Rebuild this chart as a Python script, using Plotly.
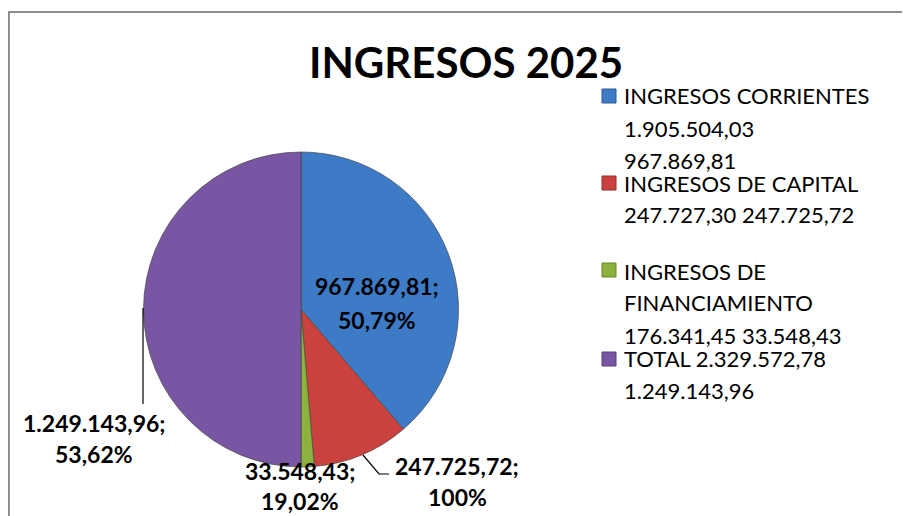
import plotly.graph_objects as go

# chart data
categorias = ["INGRESOS CORRIENTES", "INGRESOS DE CAPITAL",
              "INGRESOS DE FINANCIAMIENTO", "TOTAL"]
valores = [967869.81, 247725.72, 33548.43, 1249143.96]
etiquetas_valor = ["967.869,81;", "247.725,72;", "33.548,43;", "1.249.143,96;"]
etiquetas_pct = ["50,79%", "100%", "19,02%", "53,62%"]
leyenda_lineas = [
    ["INGRESOS CORRIENTES", "1.905.504,03", "967.869,81"],
    ["INGRESOS DE CAPITAL", "247.727,30 247.725,72"],
    ["INGRESOS DE", "FINANCIAMIENTO", "176.341,45 33.548,43"],
    ["TOTAL 2.329.572,78", "1.249.143,96"],
]
colores = ["#3D7BC7", "#CB413E", "#8CB23D", "#7856A3"]
bordes = ["#2C5A94", "#962E2C", "#67852B", "#573F78"]

# page has an 8px body margin, so the figure is a bit smaller than the window
OFF = 8
W, H = 902, 508
FONT = "Lato"


def px(x):
    # page pixel -> paper
    return (x - OFF) / W


def py(y):
    return 1 - (y - OFF) / H


fig = go.Figure(go.Pie(
    labels=categorias,
    values=valores,
    sort=False,
    direction="clockwise",
    rotation=0,
    textinfo="none",
    hoverinfo="label+value+percent",
    marker=dict(colors=colores, line=dict(color="rgba(70,70,70,0.7)", width=1)),
    domain=dict(x=[px(143), px(459)], y=[py(467), py(152)]),
    showlegend=False,
))

ann = []
shapes = []


def texto(t, x, y, size, xanchor="center"):
    ann.append(dict(text=t, x=px(x), y=py(y), xanchor=xanchor, yanchor="middle",
                    xref="paper", yref="paper", showarrow=False,
                    font=dict(family=FONT, size=size, color="black")))


# chart border
shapes.append(dict(type="rect", xref="paper", yref="paper",
                   x0=0.001, x1=1.02, y0=-0.02, y1=py(12),
                   line=dict(color="#8c8c8c", width=2)))

# title
texto("<b>INGRESOS 2025</b>", 466, 62, 42)

# data labels (value; pct) placed like the original
lbl_pos = [(377, 286, 320), (457, 466, 497), (300, 471, 501), (94, 423, 454)]
for i, (cx, y1, y2) in enumerate(lbl_pos):
    texto("<b>%s</b>" % etiquetas_valor[i], cx, y1, 23)
    texto("<b>%s</b>" % etiquetas_pct[i], cx, y2, 23)

# leader lines
shapes.append(dict(type="path", xref="paper", yref="paper",
                   path="M %f,%f L %f,%f L %f,%f" % (px(363), py(455), px(379), py(474), px(389), py(474)),
                   line=dict(color="black", width=1.2)))
shapes.append(dict(type="line", xref="paper", yref="paper",
                   x0=px(143), y0=py(308), x1=px(143), y1=py(404),
                   line=dict(color="black", width=1.2)))

# custom legend
sq_y = [96, 183, 270, 359]
line_y = [[95, 128, 160], [183, 215], [271, 302, 335], [358, 390]]
for i in range(len(categorias)):
    shapes.append(dict(type="rect", xref="paper", yref="paper",
                       x0=px(602), x1=px(616), y0=py(sq_y[i] + 7), y1=py(sq_y[i] - 7),
                       fillcolor=colores[i], line=dict(color=bordes[i], width=1)))
    for t, yy in zip(leyenda_lineas[i], line_y[i]):
        texto(t, 622, yy, 22, xanchor="left")

fig.update_layout(
    width=W, height=H,
    margin=dict(l=0, r=0, t=0, b=0),
    paper_bgcolor="white",
    annotations=ann,
    shapes=shapes,
)

fig.write_html("out.html")
